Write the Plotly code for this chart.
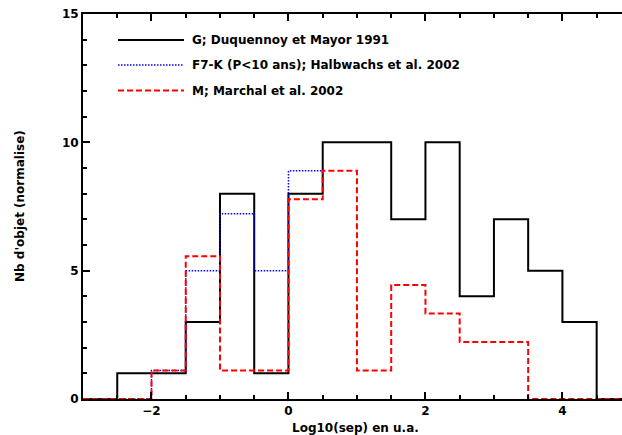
import plotly.graph_objects as go

# bin left edges (log10 sep in AU), bin width 0.5
edges = [-3.0, -2.5, -2.0, -1.5, -1.0, -0.5, 0.0, 0.5, 1.0, 1.5, 2.0, 2.5, 3.0, 3.5, 4.0, 4.5]

# G; Duquennoy et Mayor 1991
g_vals = [0, 1, 1, 3, 8, 1, 8, 10, 10, 7, 10, 4, 7, 5, 3, 0]
# F7-K (P<10 ans); Halbwachs et al. 2002  (only up to 0.5)
fk_edges = [-3.0, -2.5, -2.0, -1.5, -1.0, -0.5, 0.0]
fk_vals = [0, 0, 1.11, 5.0, 7.22, 5.0, 8.89]
# M; Marchal et al. 2002
m_vals = [0, 0, 1.11, 5.56, 1.11, 1.11, 7.78, 8.89, 1.11, 4.44, 3.33, 2.22, 2.22, 0, 0, 0]

labels = ["G; Duquennoy et Mayor 1991",
          "F7-K (P<10 ans); Halbwachs et al. 2002",
          "M; Marchal et al. 2002"]

XMAX = 4.87
BW = 0.5

def steps(e, v, close_to=None):
    xs = list(e)
    ys = list(v)
    end = e[-1] + BW if close_to is None else close_to
    xs.append(end)
    ys.append(v[-1])
    return xs, ys

fig = go.Figure()
x, y = steps(edges, g_vals, XMAX + 0.2)
fig.add_trace(go.Scatter(x=x, y=y, mode="lines", line=dict(shape="hv", color="black", width=2),
                         name=labels[0], showlegend=False))
x, y = steps(fk_edges, fk_vals)
fig.add_trace(go.Scatter(x=x, y=y, mode="lines", line=dict(shape="hv", color="#0000FF", width=1.5, dash="1.5px,1.5px"),
                         name=labels[1], showlegend=False))
x, y = steps(edges, m_vals, XMAX + 0.2)
fig.add_trace(go.Scatter(x=x, y=y, mode="lines", line=dict(shape="hv", color="#FF0000", width=2, dash="6px,3px"),
                         name=labels[2], showlegend=False))

font = dict(family="DejaVu Sans, sans-serif", size=12, color="black", weight="bold")

# manual legend
W, H = 622, 435
L, R, T, B = 83, 0, 14, 36
pw, ph = W - L - R, H - T - B
def px(xp): return (xp - L) / pw
def py(yp): return 1 - (yp - T) / ph

styles = [dict(color="black", width=2), dict(color="#0000FF", width=1.5, dash="1.5px,1.5px"),
          dict(color="#FF0000", width=2, dash="6px,3px")]
rows = [40, 65, 90.5]
for lab, st, ry in zip(labels, styles, rows):
    fig.add_shape(type="line", xref="paper", yref="paper", x0=px(118), x1=px(184), y0=py(ry), y1=py(ry), line=st)
    fig.add_annotation(xref="paper", yref="paper", x=px(190), y=py(ry), text=lab, showarrow=False,
                       xanchor="left", yanchor="middle", font=font)

# axis titles
fig.add_annotation(xref="paper", yref="paper", x=px(356), y=py(428), text="Log10(sep) en u.a.", showarrow=False,
                   xanchor="center", yanchor="middle", font=font)
fig.add_annotation(xref="paper", yref="paper", x=px(20), y=py(206), text="Nb d'objet (normalise)", showarrow=False,
                   xanchor="center", yanchor="middle", textangle=-90, font=font)

fig.update_layout(
    width=W, height=H, margin=dict(l=L, r=R, t=T, b=B),
    plot_bgcolor="white", paper_bgcolor="white",
    font=font,
    xaxis=dict(range=[-3, XMAX], showgrid=False, zeroline=False, showline=True, linecolor="black", linewidth=2,
               mirror="allticks", ticks="inside", ticklen=7, tickwidth=1.5, tickcolor="black",
               tickvals=[-2, 0, 2, 4], ticktext=["\u22122", "0", "2", "4"],
               minor=dict(dtick=0.5, tick0=0, ticks="inside", ticklen=4, tickwidth=1.5, tickcolor="black"),
               tickfont=font),
    yaxis=dict(range=[0, 15], showgrid=False, zeroline=False, showline=True, linecolor="black", linewidth=2,
               mirror=False, ticks="inside", ticklen=7, tickwidth=1.5, tickcolor="black",
               tickvals=[0, 5, 10, 15],
               minor=dict(dtick=1, ticks="inside", ticklen=4, tickwidth=1.5, tickcolor="black"),
               tickfont=font),
)

fig.write_html("out.html", config={"displayModeBar": False},
               post_script="document.body.style.margin='0';document.body.style.overflow='hidden';")
